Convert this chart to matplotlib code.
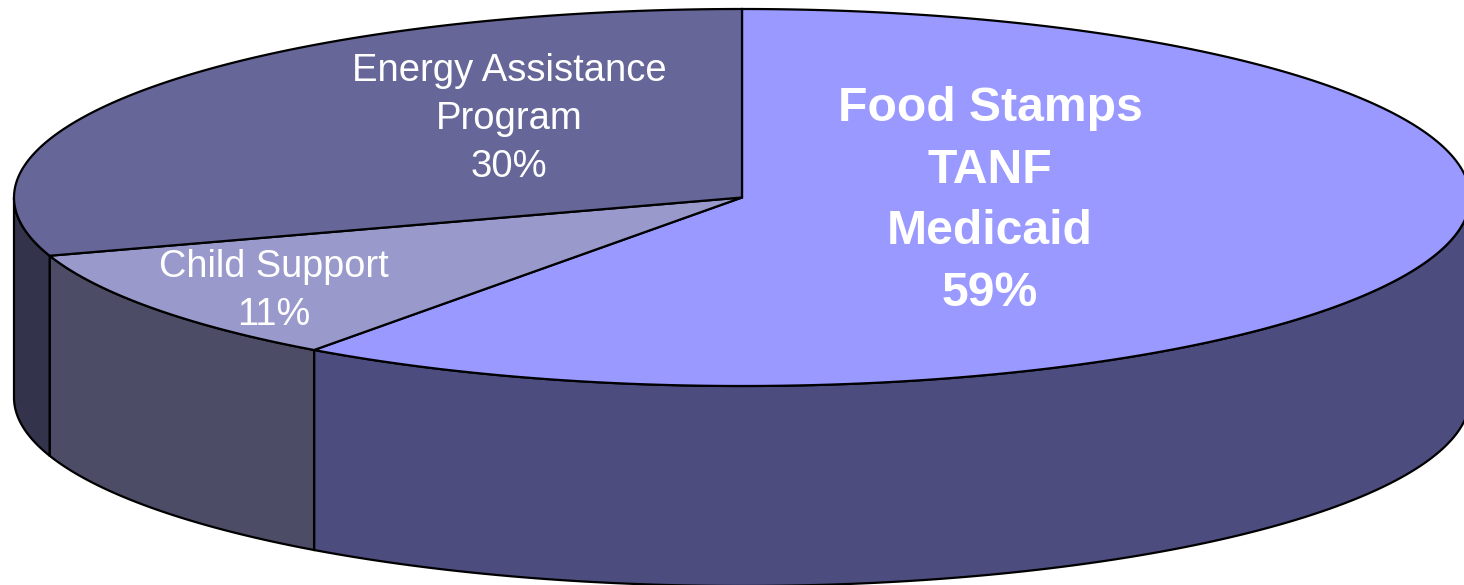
#!/usr/bin/env python3
"""3D style pie chart of program shares, drawn on a pixel sized axes."""
import numpy as np
import matplotlib
matplotlib.use("Agg")
import matplotlib.pyplot as plt

# clockwise from 12 o'clock
categories = ["Food Stamps\nTANF\nMedicaid", "Child Support", "Energy Assistance\nProgram"]
percents = [59, 11, 30]
# sweep of each slice as it shows in the picture (the 3D view distorts it a bit)
sweep_deg = [216, 36, 108]

top_colors = ["#9999FF", "#9999CC", "#666699"]
side_colors = ["#4C4C7F", "#4C4C66", "#33334C"]

W, H = 1464, 585
CX, CY = 742, 197.5
A, B = 728, 188.5
DEPTH = 200

fig = plt.figure(figsize=(W / 100, H / 100), dpi=100)
ax = fig.add_axes([0, 0, 1, 1])
ax.set_xlim(0, W)
ax.set_ylim(H, 0)
ax.axis("off")


def rim(t1, t2):
    t = np.radians(np.linspace(t1, t2, 300))
    return CX + A * np.cos(t), CY - B * np.sin(t)


starts = 90 - np.concatenate([[0], np.cumsum(sweep_deg)[:-1]])
ends = starts - np.array(sweep_deg)

# walls first, only the part of the rim that faces the viewer
for s, e, col in zip(starts, ends, side_colors):
    lo, hi = max(e, -180), min(s, 0)
    if hi <= lo:
        continue
    x, y = rim(hi, lo)
    ax.fill(np.r_[x, x[::-1]], np.r_[y, y[::-1] + DEPTH], fc=col, ec="black", lw=1.6, zorder=2)

# top faces
for s, e, col in zip(starts, ends, top_colors):
    x, y = rim(s, e)
    ax.fill(np.r_[CX, x], np.r_[CY, y], fc=col, ec="black", lw=1.6, zorder=3)

font = ["Liberation Sans", "DejaVu Sans"]
ax.text(990, 201, f"{categories[0]}\n{percents[0]}%", color="white", fontsize=34.7, fontweight="bold",
        family=font, ha="center", va="center", linespacing=1.485, zorder=4)
ax.text(274, 291, f"{categories[1]}\n{percents[1]}%", color="white", fontsize=27.3,
        family=font, ha="center", va="center", linespacing=1.42, zorder=4)
ax.text(509, 119, f"{categories[2]}\n{percents[2]}%", color="white", fontsize=27.5,
        family=font, ha="center", va="center", linespacing=1.42, zorder=4)

fig.savefig("out.png", dpi=100)
